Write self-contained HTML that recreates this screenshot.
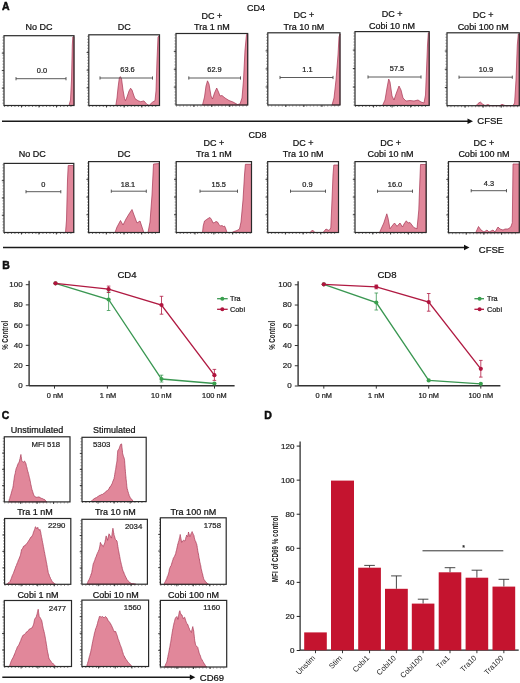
<!DOCTYPE html>
<html><head><meta charset="utf-8"><style>
html,body{margin:0;padding:0;background:#fff;width:520px;height:683px;overflow:hidden}
svg{display:block;font-family:"Liberation Sans", sans-serif;will-change:transform;filter:blur(0.3px)}
</style></head><body>
<svg width="520" height="683" viewBox="0 0 520 683">
<rect width="520" height="683" fill="#fff"/>
<text x="2" y="9.6" font-size="10.5" text-anchor="start" font-weight="bold" fill="#111" stroke="#000" stroke-width="0.45">A</text>
<text x="256" y="11" font-size="9" text-anchor="middle" font-weight="normal" fill="#111" stroke="#111" stroke-width="0.22">CD4</text>
<text x="257.5" y="138" font-size="9" text-anchor="middle" font-weight="normal" fill="#111" stroke="#111" stroke-width="0.22">CD8</text>
<text x="39" y="29.8" font-size="9" text-anchor="middle" font-weight="normal" fill="#111" stroke="#111" stroke-width="0.22">No DC</text>
<polygon points="69,105.5 70.5,100 71.5,80 72.3,45 72.8,37 74,36.5 74,105.5" fill="#e1879a" stroke="#a53352" stroke-width="0.7" stroke-linejoin="round"/>
<rect x="4" y="35.7" width="70" height="69.8" fill="none" stroke="#2a2a2a" stroke-width="1.2"/>
<line x1="3" y1="36.7" x2="3" y2="105.5" stroke="#2a2a2a" stroke-width="0.8" stroke-dasharray="0.9 2.1" opacity="0.8"/>
<line x1="4" y1="106.5" x2="73" y2="106.5" stroke="#2a2a2a" stroke-width="0.8" stroke-dasharray="0.9 2.6" opacity="0.8"/>
<line x1="1.8" y1="88.05" x2="4" y2="88.05" stroke="#2a2a2a" stroke-width="0.9" />
<line x1="1.8" y1="70.6" x2="4" y2="70.6" stroke="#2a2a2a" stroke-width="0.9" />
<line x1="1.8" y1="53.15" x2="4" y2="53.15" stroke="#2a2a2a" stroke-width="0.9" />
<line x1="21.5" y1="105.5" x2="21.5" y2="107.5" stroke="#2a2a2a" stroke-width="0.9" />
<line x1="39" y1="105.5" x2="39" y2="107.5" stroke="#2a2a2a" stroke-width="0.9" />
<line x1="56.5" y1="105.5" x2="56.5" y2="107.5" stroke="#2a2a2a" stroke-width="0.9" />
<line x1="16" y1="78.7" x2="66" y2="78.7" stroke="#484848" stroke-width="0.9" />
<line x1="16" y1="77.1" x2="16" y2="80.3" stroke="#484848" stroke-width="0.9" />
<line x1="66" y1="77.1" x2="66" y2="80.3" stroke="#484848" stroke-width="0.9" />
<text x="42" y="72.6" font-size="7.4" text-anchor="middle" font-weight="normal" fill="#222" stroke="#222" stroke-width="0.22">0.0</text>
<text x="124.15" y="29.8" font-size="9" text-anchor="middle" font-weight="normal" fill="#111" stroke="#111" stroke-width="0.22">DC</text>
<polygon points="115.8,105.5 117,98 118,88 119.3,78 120.3,76.6 121.5,78.5 123,90 124.5,98.5 125.5,100.7 127,97 129,91 130.6,88.2 132,90 134,96 135,98.6 138,100.7 140.7,101.7 143.9,100.9 147,104.4 149.2,105.3 152.3,102.3 155,100.7 156,91 157,60 158,37 159.3,35.5 159.5,105.5" fill="#e1879a" stroke="#a53352" stroke-width="0.7" stroke-linejoin="round"/>
<rect x="88.8" y="34.8" width="70.7" height="70.7" fill="none" stroke="#2a2a2a" stroke-width="1.2"/>
<line x1="87.8" y1="35.8" x2="87.8" y2="105.5" stroke="#2a2a2a" stroke-width="0.8" stroke-dasharray="0.9 2.1" opacity="0.8"/>
<line x1="88.8" y1="106.5" x2="158.5" y2="106.5" stroke="#2a2a2a" stroke-width="0.8" stroke-dasharray="0.9 2.6" opacity="0.8"/>
<line x1="86.6" y1="87.83" x2="88.8" y2="87.83" stroke="#2a2a2a" stroke-width="0.9" />
<line x1="86.6" y1="70.15" x2="88.8" y2="70.15" stroke="#2a2a2a" stroke-width="0.9" />
<line x1="86.6" y1="52.47" x2="88.8" y2="52.47" stroke="#2a2a2a" stroke-width="0.9" />
<line x1="106.47" y1="105.5" x2="106.47" y2="107.5" stroke="#2a2a2a" stroke-width="0.9" />
<line x1="124.15" y1="105.5" x2="124.15" y2="107.5" stroke="#2a2a2a" stroke-width="0.9" />
<line x1="141.82" y1="105.5" x2="141.82" y2="107.5" stroke="#2a2a2a" stroke-width="0.9" />
<line x1="100" y1="78" x2="152.5" y2="78" stroke="#484848" stroke-width="0.9" />
<line x1="100" y1="76.4" x2="100" y2="79.6" stroke="#484848" stroke-width="0.9" />
<line x1="152.5" y1="76.4" x2="152.5" y2="79.6" stroke="#484848" stroke-width="0.9" />
<text x="127.5" y="72.1" font-size="7.4" text-anchor="middle" font-weight="normal" fill="#222" stroke="#222" stroke-width="0.22">63.6</text>
<text x="211.85" y="18.5" font-size="9" text-anchor="middle" font-weight="normal" fill="#111" stroke="#111" stroke-width="0.22">DC +</text>
<text x="211.85" y="29.8" font-size="9" text-anchor="middle" font-weight="normal" fill="#111" stroke="#111" stroke-width="0.22">Tra 1 nM</text>
<polygon points="202.5,105 204.5,97 206,86 207.5,80.8 209,84 211,96 212.5,99 214.5,93 216.7,88 218.5,92 220,96 222,95.5 225,98 229,100.5 233,102 237.5,104.5 240,104 242,98 243.5,80 245,50 246.5,34.5 247.7,34 247.7,105" fill="#e1879a" stroke="#a53352" stroke-width="0.7" stroke-linejoin="round"/>
<rect x="176" y="33.5" width="71.7" height="71.5" fill="none" stroke="#2a2a2a" stroke-width="1.2"/>
<line x1="175" y1="34.5" x2="175" y2="105" stroke="#2a2a2a" stroke-width="0.8" stroke-dasharray="0.9 2.1" opacity="0.8"/>
<line x1="176" y1="106" x2="246.7" y2="106" stroke="#2a2a2a" stroke-width="0.8" stroke-dasharray="0.9 2.6" opacity="0.8"/>
<line x1="173.8" y1="87.12" x2="176" y2="87.12" stroke="#2a2a2a" stroke-width="0.9" />
<line x1="173.8" y1="69.25" x2="176" y2="69.25" stroke="#2a2a2a" stroke-width="0.9" />
<line x1="173.8" y1="51.38" x2="176" y2="51.38" stroke="#2a2a2a" stroke-width="0.9" />
<line x1="193.93" y1="105" x2="193.93" y2="107" stroke="#2a2a2a" stroke-width="0.9" />
<line x1="211.85" y1="105" x2="211.85" y2="107" stroke="#2a2a2a" stroke-width="0.9" />
<line x1="229.77" y1="105" x2="229.77" y2="107" stroke="#2a2a2a" stroke-width="0.9" />
<line x1="188.8" y1="78" x2="240.5" y2="78" stroke="#484848" stroke-width="0.9" />
<line x1="188.8" y1="76.4" x2="188.8" y2="79.6" stroke="#484848" stroke-width="0.9" />
<line x1="240.5" y1="76.4" x2="240.5" y2="79.6" stroke="#484848" stroke-width="0.9" />
<text x="214.5" y="72.1" font-size="7.4" text-anchor="middle" font-weight="normal" fill="#222" stroke="#222" stroke-width="0.22">62.9</text>
<text x="303.9" y="18.2" font-size="9" text-anchor="middle" font-weight="normal" fill="#111" stroke="#111" stroke-width="0.22">DC +</text>
<text x="303.9" y="29.6" font-size="9" text-anchor="middle" font-weight="normal" fill="#111" stroke="#111" stroke-width="0.22">Tra 10 nM</text>
<polygon points="332,105 334,98 336,80 338,55 339,37 340,34 340,105" fill="#e1879a" stroke="#a53352" stroke-width="0.7" stroke-linejoin="round"/>
<rect x="267.8" y="32.8" width="72.2" height="72.2" fill="none" stroke="#2a2a2a" stroke-width="1.2"/>
<line x1="266.8" y1="33.8" x2="266.8" y2="105" stroke="#2a2a2a" stroke-width="0.8" stroke-dasharray="0.9 2.1" opacity="0.8"/>
<line x1="267.8" y1="106" x2="339" y2="106" stroke="#2a2a2a" stroke-width="0.8" stroke-dasharray="0.9 2.6" opacity="0.8"/>
<line x1="265.6" y1="86.95" x2="267.8" y2="86.95" stroke="#2a2a2a" stroke-width="0.9" />
<line x1="265.6" y1="68.9" x2="267.8" y2="68.9" stroke="#2a2a2a" stroke-width="0.9" />
<line x1="265.6" y1="50.85" x2="267.8" y2="50.85" stroke="#2a2a2a" stroke-width="0.9" />
<line x1="285.85" y1="105" x2="285.85" y2="107" stroke="#2a2a2a" stroke-width="0.9" />
<line x1="303.9" y1="105" x2="303.9" y2="107" stroke="#2a2a2a" stroke-width="0.9" />
<line x1="321.95" y1="105" x2="321.95" y2="107" stroke="#2a2a2a" stroke-width="0.9" />
<line x1="280" y1="77.5" x2="333" y2="77.5" stroke="#484848" stroke-width="0.9" />
<line x1="280" y1="75.9" x2="280" y2="79.1" stroke="#484848" stroke-width="0.9" />
<line x1="333" y1="75.9" x2="333" y2="79.1" stroke="#484848" stroke-width="0.9" />
<text x="307.5" y="71.6" font-size="7.4" text-anchor="middle" font-weight="normal" fill="#222" stroke="#222" stroke-width="0.22">1.1</text>
<text x="392.1" y="17.4" font-size="9" text-anchor="middle" font-weight="normal" fill="#111" stroke="#111" stroke-width="0.22">DC +</text>
<text x="392.1" y="28.6" font-size="9" text-anchor="middle" font-weight="normal" fill="#111" stroke="#111" stroke-width="0.22">Cobi 10 nM</text>
<polygon points="382.5,105.5 385,100 387,88 388.7,79 390,82 392,96 394,100 396,94 399,86 401,90 403,98 406,101 410,100.5 414,101 418,100 421,102 424,103 425.5,95 426.5,70 427.5,45 428.3,33 429.2,32.5 429.2,105.5" fill="#e1879a" stroke="#a53352" stroke-width="0.7" stroke-linejoin="round"/>
<rect x="355" y="31.6" width="74.2" height="73.9" fill="none" stroke="#2a2a2a" stroke-width="1.2"/>
<line x1="354" y1="32.6" x2="354" y2="105.5" stroke="#2a2a2a" stroke-width="0.8" stroke-dasharray="0.9 2.1" opacity="0.8"/>
<line x1="355" y1="106.5" x2="428.2" y2="106.5" stroke="#2a2a2a" stroke-width="0.8" stroke-dasharray="0.9 2.6" opacity="0.8"/>
<line x1="352.8" y1="87.03" x2="355" y2="87.03" stroke="#2a2a2a" stroke-width="0.9" />
<line x1="352.8" y1="68.55" x2="355" y2="68.55" stroke="#2a2a2a" stroke-width="0.9" />
<line x1="352.8" y1="50.07" x2="355" y2="50.07" stroke="#2a2a2a" stroke-width="0.9" />
<line x1="373.55" y1="105.5" x2="373.55" y2="107.5" stroke="#2a2a2a" stroke-width="0.9" />
<line x1="392.1" y1="105.5" x2="392.1" y2="107.5" stroke="#2a2a2a" stroke-width="0.9" />
<line x1="410.65" y1="105.5" x2="410.65" y2="107.5" stroke="#2a2a2a" stroke-width="0.9" />
<line x1="368" y1="77" x2="421" y2="77" stroke="#484848" stroke-width="0.9" />
<line x1="368" y1="75.4" x2="368" y2="78.6" stroke="#484848" stroke-width="0.9" />
<line x1="421" y1="75.4" x2="421" y2="78.6" stroke="#484848" stroke-width="0.9" />
<text x="397" y="71.3" font-size="7.4" text-anchor="middle" font-weight="normal" fill="#222" stroke="#222" stroke-width="0.22">57.5</text>
<text x="483.15" y="18.2" font-size="9" text-anchor="middle" font-weight="normal" fill="#111" stroke="#111" stroke-width="0.22">DC +</text>
<text x="483.15" y="29.9" font-size="9" text-anchor="middle" font-weight="normal" fill="#111" stroke="#111" stroke-width="0.22">Cobi 100 nM</text>
<polygon points="476,105.7 478,103.5 480.3,102 482.5,104 485,105.5 488,104.5 490,105.5 500,105.5 502,104.3 505,105.5 513,105.5 514.6,103 516,80 517.3,45 518.3,34 519.3,34 519.3,105.7" fill="#e1879a" stroke="#a53352" stroke-width="0.7" stroke-linejoin="round"/>
<rect x="447" y="32.8" width="72.3" height="72.9" fill="none" stroke="#2a2a2a" stroke-width="1.2"/>
<line x1="446" y1="33.8" x2="446" y2="105.7" stroke="#2a2a2a" stroke-width="0.8" stroke-dasharray="0.9 2.1" opacity="0.8"/>
<line x1="447" y1="106.7" x2="518.3" y2="106.7" stroke="#2a2a2a" stroke-width="0.8" stroke-dasharray="0.9 2.6" opacity="0.8"/>
<line x1="444.8" y1="87.47" x2="447" y2="87.47" stroke="#2a2a2a" stroke-width="0.9" />
<line x1="444.8" y1="69.25" x2="447" y2="69.25" stroke="#2a2a2a" stroke-width="0.9" />
<line x1="444.8" y1="51.02" x2="447" y2="51.02" stroke="#2a2a2a" stroke-width="0.9" />
<line x1="465.07" y1="105.7" x2="465.07" y2="107.7" stroke="#2a2a2a" stroke-width="0.9" />
<line x1="483.15" y1="105.7" x2="483.15" y2="107.7" stroke="#2a2a2a" stroke-width="0.9" />
<line x1="501.22" y1="105.7" x2="501.22" y2="107.7" stroke="#2a2a2a" stroke-width="0.9" />
<line x1="459" y1="77.2" x2="512.3" y2="77.2" stroke="#484848" stroke-width="0.9" />
<line x1="459" y1="75.6" x2="459" y2="78.8" stroke="#484848" stroke-width="0.9" />
<line x1="512.3" y1="75.6" x2="512.3" y2="78.8" stroke="#484848" stroke-width="0.9" />
<text x="486" y="71.5" font-size="7.4" text-anchor="middle" font-weight="normal" fill="#222" stroke="#222" stroke-width="0.22">10.9</text>
<text x="32.2" y="156.9" font-size="9" text-anchor="middle" font-weight="normal" fill="#111" stroke="#111" stroke-width="0.22">No DC</text>
<polygon points="65.5,232.5 66.5,220 67.5,180 68.2,165.5 73.5,165.5 73.5,232.5" fill="#e1879a" stroke="#a53352" stroke-width="0.7" stroke-linejoin="round"/>
<rect x="4" y="163.4" width="69.8" height="69.1" fill="none" stroke="#2a2a2a" stroke-width="1.2"/>
<line x1="3" y1="164.4" x2="3" y2="232.5" stroke="#2a2a2a" stroke-width="0.8" stroke-dasharray="0.9 2.1" opacity="0.8"/>
<line x1="4" y1="233.5" x2="72.8" y2="233.5" stroke="#2a2a2a" stroke-width="0.8" stroke-dasharray="0.9 2.6" opacity="0.8"/>
<line x1="1.8" y1="215.22" x2="4" y2="215.22" stroke="#2a2a2a" stroke-width="0.9" />
<line x1="1.8" y1="197.95" x2="4" y2="197.95" stroke="#2a2a2a" stroke-width="0.9" />
<line x1="1.8" y1="180.68" x2="4" y2="180.68" stroke="#2a2a2a" stroke-width="0.9" />
<line x1="21.45" y1="232.5" x2="21.45" y2="234.5" stroke="#2a2a2a" stroke-width="0.9" />
<line x1="38.9" y1="232.5" x2="38.9" y2="234.5" stroke="#2a2a2a" stroke-width="0.9" />
<line x1="56.35" y1="232.5" x2="56.35" y2="234.5" stroke="#2a2a2a" stroke-width="0.9" />
<line x1="26" y1="191.7" x2="60.8" y2="191.7" stroke="#484848" stroke-width="0.9" />
<line x1="26" y1="190.1" x2="26" y2="193.3" stroke="#484848" stroke-width="0.9" />
<line x1="60.8" y1="190.1" x2="60.8" y2="193.3" stroke="#484848" stroke-width="0.9" />
<text x="43.3" y="187" font-size="7.4" text-anchor="middle" font-weight="normal" fill="#222" stroke="#222" stroke-width="0.22">0</text>
<text x="124" y="156.8" font-size="9" text-anchor="middle" font-weight="normal" fill="#111" stroke="#111" stroke-width="0.22">DC</text>
<polygon points="115,232.5 117,227 120.5,220.5 123,225 126,219 129,214 132,209.5 134,215 137,223 140,221 142,227 143.8,232.5 148,232.5 150,222 152,195 153.5,164 159.4,163.5 159.4,232.5" fill="#e1879a" stroke="#a53352" stroke-width="0.7" stroke-linejoin="round"/>
<rect x="88.6" y="161.6" width="70.8" height="70.9" fill="none" stroke="#2a2a2a" stroke-width="1.2"/>
<line x1="87.6" y1="162.6" x2="87.6" y2="232.5" stroke="#2a2a2a" stroke-width="0.8" stroke-dasharray="0.9 2.1" opacity="0.8"/>
<line x1="88.6" y1="233.5" x2="158.4" y2="233.5" stroke="#2a2a2a" stroke-width="0.8" stroke-dasharray="0.9 2.6" opacity="0.8"/>
<line x1="86.4" y1="214.78" x2="88.6" y2="214.78" stroke="#2a2a2a" stroke-width="0.9" />
<line x1="86.4" y1="197.05" x2="88.6" y2="197.05" stroke="#2a2a2a" stroke-width="0.9" />
<line x1="86.4" y1="179.32" x2="88.6" y2="179.32" stroke="#2a2a2a" stroke-width="0.9" />
<line x1="106.3" y1="232.5" x2="106.3" y2="234.5" stroke="#2a2a2a" stroke-width="0.9" />
<line x1="124" y1="232.5" x2="124" y2="234.5" stroke="#2a2a2a" stroke-width="0.9" />
<line x1="141.7" y1="232.5" x2="141.7" y2="234.5" stroke="#2a2a2a" stroke-width="0.9" />
<line x1="111.3" y1="191.2" x2="146.3" y2="191.2" stroke="#484848" stroke-width="0.9" />
<line x1="111.3" y1="189.6" x2="111.3" y2="192.8" stroke="#484848" stroke-width="0.9" />
<line x1="146.3" y1="189.6" x2="146.3" y2="192.8" stroke="#484848" stroke-width="0.9" />
<text x="128" y="186.5" font-size="7.4" text-anchor="middle" font-weight="normal" fill="#222" stroke="#222" stroke-width="0.22">18.1</text>
<text x="213.85" y="145.8" font-size="9" text-anchor="middle" font-weight="normal" fill="#111" stroke="#111" stroke-width="0.22">DC +</text>
<text x="213.85" y="156.8" font-size="9" text-anchor="middle" font-weight="normal" fill="#111" stroke="#111" stroke-width="0.22">Tra 1 nM</text>
<polygon points="202.5,232.5 203.2,226 204.5,221 206,220 208,218.5 210,217.5 211.5,219.5 213,223 214.5,222.5 216,221.5 217.5,222 219,224.5 220.5,226 222,225.5 223.5,226.5 224.5,226 225.5,228 227,232.5 232,232.5 234,231.5 237,230.5 239.5,229 241,222 243,200 244.5,175 245.4,164.3 251.5,164.3 251.5,232.5" fill="#e1879a" stroke="#a53352" stroke-width="0.7" stroke-linejoin="round"/>
<rect x="176.2" y="161.6" width="75.3" height="70.9" fill="none" stroke="#2a2a2a" stroke-width="1.2"/>
<line x1="175.2" y1="162.6" x2="175.2" y2="232.5" stroke="#2a2a2a" stroke-width="0.8" stroke-dasharray="0.9 2.1" opacity="0.8"/>
<line x1="176.2" y1="233.5" x2="250.5" y2="233.5" stroke="#2a2a2a" stroke-width="0.8" stroke-dasharray="0.9 2.6" opacity="0.8"/>
<line x1="174" y1="214.78" x2="176.2" y2="214.78" stroke="#2a2a2a" stroke-width="0.9" />
<line x1="174" y1="197.05" x2="176.2" y2="197.05" stroke="#2a2a2a" stroke-width="0.9" />
<line x1="174" y1="179.32" x2="176.2" y2="179.32" stroke="#2a2a2a" stroke-width="0.9" />
<line x1="195.02" y1="232.5" x2="195.02" y2="234.5" stroke="#2a2a2a" stroke-width="0.9" />
<line x1="213.85" y1="232.5" x2="213.85" y2="234.5" stroke="#2a2a2a" stroke-width="0.9" />
<line x1="232.68" y1="232.5" x2="232.68" y2="234.5" stroke="#2a2a2a" stroke-width="0.9" />
<line x1="200" y1="191.2" x2="237.5" y2="191.2" stroke="#484848" stroke-width="0.9" />
<line x1="200" y1="189.6" x2="200" y2="192.8" stroke="#484848" stroke-width="0.9" />
<line x1="237.5" y1="189.6" x2="237.5" y2="192.8" stroke="#484848" stroke-width="0.9" />
<text x="218.8" y="186.5" font-size="7.4" text-anchor="middle" font-weight="normal" fill="#222" stroke="#222" stroke-width="0.22">15.5</text>
<text x="303.1" y="145.8" font-size="9" text-anchor="middle" font-weight="normal" fill="#111" stroke="#111" stroke-width="0.22">DC +</text>
<text x="303.1" y="156.8" font-size="9" text-anchor="middle" font-weight="normal" fill="#111" stroke="#111" stroke-width="0.22">Tra 10 nM</text>
<polygon points="310,232.5 312.5,230 315,232.5 323,232.5 326,229 329,230.5 330.8,228 332,200 333,175 333.8,165 338.5,165 338.5,232.5" fill="#e1879a" stroke="#a53352" stroke-width="0.7" stroke-linejoin="round"/>
<rect x="267.7" y="161.6" width="70.8" height="70.9" fill="none" stroke="#2a2a2a" stroke-width="1.2"/>
<line x1="266.7" y1="162.6" x2="266.7" y2="232.5" stroke="#2a2a2a" stroke-width="0.8" stroke-dasharray="0.9 2.1" opacity="0.8"/>
<line x1="267.7" y1="233.5" x2="337.5" y2="233.5" stroke="#2a2a2a" stroke-width="0.8" stroke-dasharray="0.9 2.6" opacity="0.8"/>
<line x1="265.5" y1="214.78" x2="267.7" y2="214.78" stroke="#2a2a2a" stroke-width="0.9" />
<line x1="265.5" y1="197.05" x2="267.7" y2="197.05" stroke="#2a2a2a" stroke-width="0.9" />
<line x1="265.5" y1="179.32" x2="267.7" y2="179.32" stroke="#2a2a2a" stroke-width="0.9" />
<line x1="285.4" y1="232.5" x2="285.4" y2="234.5" stroke="#2a2a2a" stroke-width="0.9" />
<line x1="303.1" y1="232.5" x2="303.1" y2="234.5" stroke="#2a2a2a" stroke-width="0.9" />
<line x1="320.8" y1="232.5" x2="320.8" y2="234.5" stroke="#2a2a2a" stroke-width="0.9" />
<line x1="290.5" y1="191.2" x2="325.5" y2="191.2" stroke="#484848" stroke-width="0.9" />
<line x1="290.5" y1="189.6" x2="290.5" y2="192.8" stroke="#484848" stroke-width="0.9" />
<line x1="325.5" y1="189.6" x2="325.5" y2="192.8" stroke="#484848" stroke-width="0.9" />
<text x="307.5" y="186.5" font-size="7.4" text-anchor="middle" font-weight="normal" fill="#222" stroke="#222" stroke-width="0.22">0.9</text>
<text x="390.6" y="145.8" font-size="9" text-anchor="middle" font-weight="normal" fill="#111" stroke="#111" stroke-width="0.22">DC +</text>
<text x="390.6" y="156.8" font-size="9" text-anchor="middle" font-weight="normal" fill="#111" stroke="#111" stroke-width="0.22">Cobi 10 nM</text>
<polygon points="379.5,232.5 383.8,223 386.8,213.8 388,218 390,228.8 392,226 394.5,223 397,226.3 400,223 402.5,227 404,224 406.3,220.8 408,223 410,222.5 413.8,227.5 417,228.8 418.8,210 419.5,190 420.5,164.5 426,164.5 426,232.5" fill="#e1879a" stroke="#a53352" stroke-width="0.7" stroke-linejoin="round"/>
<rect x="355" y="161.6" width="71.2" height="70.9" fill="none" stroke="#2a2a2a" stroke-width="1.2"/>
<line x1="354" y1="162.6" x2="354" y2="232.5" stroke="#2a2a2a" stroke-width="0.8" stroke-dasharray="0.9 2.1" opacity="0.8"/>
<line x1="355" y1="233.5" x2="425.2" y2="233.5" stroke="#2a2a2a" stroke-width="0.8" stroke-dasharray="0.9 2.6" opacity="0.8"/>
<line x1="352.8" y1="214.78" x2="355" y2="214.78" stroke="#2a2a2a" stroke-width="0.9" />
<line x1="352.8" y1="197.05" x2="355" y2="197.05" stroke="#2a2a2a" stroke-width="0.9" />
<line x1="352.8" y1="179.32" x2="355" y2="179.32" stroke="#2a2a2a" stroke-width="0.9" />
<line x1="372.8" y1="232.5" x2="372.8" y2="234.5" stroke="#2a2a2a" stroke-width="0.9" />
<line x1="390.6" y1="232.5" x2="390.6" y2="234.5" stroke="#2a2a2a" stroke-width="0.9" />
<line x1="408.4" y1="232.5" x2="408.4" y2="234.5" stroke="#2a2a2a" stroke-width="0.9" />
<line x1="377.5" y1="191.2" x2="412.5" y2="191.2" stroke="#484848" stroke-width="0.9" />
<line x1="377.5" y1="189.6" x2="377.5" y2="192.8" stroke="#484848" stroke-width="0.9" />
<line x1="412.5" y1="189.6" x2="412.5" y2="192.8" stroke="#484848" stroke-width="0.9" />
<text x="395" y="186.5" font-size="7.4" text-anchor="middle" font-weight="normal" fill="#222" stroke="#222" stroke-width="0.22">16.0</text>
<text x="483.9" y="145.8" font-size="9" text-anchor="middle" font-weight="normal" fill="#111" stroke="#111" stroke-width="0.22">DC +</text>
<text x="483.9" y="156.8" font-size="9" text-anchor="middle" font-weight="normal" fill="#111" stroke="#111" stroke-width="0.22">Cobi 100 nM</text>
<polygon points="475.7,232.7 478.5,226.5 481,230 484,232 487,230 489,232 493,230 495,232 498,227 500,229 503,230 505,229 508,229 510.8,227 512.3,222.7 513,164 519.3,164 519.3,232.7" fill="#e1879a" stroke="#a53352" stroke-width="0.7" stroke-linejoin="round"/>
<rect x="448.5" y="161.6" width="70.8" height="71.1" fill="none" stroke="#2a2a2a" stroke-width="1.2"/>
<line x1="447.5" y1="162.6" x2="447.5" y2="232.7" stroke="#2a2a2a" stroke-width="0.8" stroke-dasharray="0.9 2.1" opacity="0.8"/>
<line x1="448.5" y1="233.7" x2="518.3" y2="233.7" stroke="#2a2a2a" stroke-width="0.8" stroke-dasharray="0.9 2.6" opacity="0.8"/>
<line x1="446.3" y1="214.92" x2="448.5" y2="214.92" stroke="#2a2a2a" stroke-width="0.9" />
<line x1="446.3" y1="197.15" x2="448.5" y2="197.15" stroke="#2a2a2a" stroke-width="0.9" />
<line x1="446.3" y1="179.38" x2="448.5" y2="179.38" stroke="#2a2a2a" stroke-width="0.9" />
<line x1="466.2" y1="232.7" x2="466.2" y2="234.7" stroke="#2a2a2a" stroke-width="0.9" />
<line x1="483.9" y1="232.7" x2="483.9" y2="234.7" stroke="#2a2a2a" stroke-width="0.9" />
<line x1="501.6" y1="232.7" x2="501.6" y2="234.7" stroke="#2a2a2a" stroke-width="0.9" />
<line x1="471.2" y1="190.7" x2="506.5" y2="190.7" stroke="#484848" stroke-width="0.9" />
<line x1="471.2" y1="189.1" x2="471.2" y2="192.3" stroke="#484848" stroke-width="0.9" />
<line x1="506.5" y1="189.1" x2="506.5" y2="192.3" stroke="#484848" stroke-width="0.9" />
<text x="489" y="185.6" font-size="7.4" text-anchor="middle" font-weight="normal" fill="#222" stroke="#222" stroke-width="0.22">4.3</text>
<line x1="2" y1="121.3" x2="469" y2="121.3" stroke="#1a1a1a" stroke-width="1.5" />
<polygon points="467.5,118.5 473,121.3 467.5,124.1" fill="#111"/>
<text x="477.3" y="124.3" font-size="9.5" text-anchor="start" font-weight="normal" fill="#111" stroke="#111" stroke-width="0.22">CFSE</text>
<line x1="3" y1="247.5" x2="465.5" y2="247.5" stroke="#1a1a1a" stroke-width="1.5" />
<polygon points="464,244.7 469.5,247.5 464,250.3" fill="#111"/>
<text x="478.8" y="253" font-size="9.5" text-anchor="start" font-weight="normal" fill="#111" stroke="#111" stroke-width="0.22">CFSE</text>
<text x="2.3" y="269.3" font-size="10.5" text-anchor="start" font-weight="bold" fill="#111" stroke="#000" stroke-width="0.45">B</text>
<line x1="29.1" y1="280.7" x2="29.1" y2="385.8" stroke="#333" stroke-width="1.4" />
<line x1="29.1" y1="385.8" x2="234.6" y2="385.8" stroke="#333" stroke-width="1.4" />
<line x1="25.8" y1="385.7" x2="29.1" y2="385.7" stroke="#333" stroke-width="1" />
<text x="22.6" y="388.1" font-size="8" text-anchor="end" font-weight="normal" fill="#222" stroke="#222" stroke-width="0.22">0</text>
<line x1="25.8" y1="365.5" x2="29.1" y2="365.5" stroke="#333" stroke-width="1" />
<text x="22.6" y="367.9" font-size="8" text-anchor="end" font-weight="normal" fill="#222" stroke="#222" stroke-width="0.22">20</text>
<line x1="25.8" y1="345.3" x2="29.1" y2="345.3" stroke="#333" stroke-width="1" />
<text x="22.6" y="347.7" font-size="8" text-anchor="end" font-weight="normal" fill="#222" stroke="#222" stroke-width="0.22">40</text>
<line x1="25.8" y1="325.1" x2="29.1" y2="325.1" stroke="#333" stroke-width="1" />
<text x="22.6" y="327.5" font-size="8" text-anchor="end" font-weight="normal" fill="#222" stroke="#222" stroke-width="0.22">60</text>
<line x1="25.8" y1="304.9" x2="29.1" y2="304.9" stroke="#333" stroke-width="1" />
<text x="22.6" y="307.3" font-size="8" text-anchor="end" font-weight="normal" fill="#222" stroke="#222" stroke-width="0.22">80</text>
<line x1="25.8" y1="284.7" x2="29.1" y2="284.7" stroke="#333" stroke-width="1" />
<text x="22.6" y="287.1" font-size="8" text-anchor="end" font-weight="normal" fill="#222" stroke="#222" stroke-width="0.22">100</text>
<line x1="54.5" y1="385.8" x2="54.5" y2="388.6" stroke="#333" stroke-width="1" />
<text x="55" y="397.6" font-size="7.4" text-anchor="middle" font-weight="normal" fill="#222" stroke="#222" stroke-width="0.22">0 nM</text>
<line x1="107.4" y1="385.8" x2="107.4" y2="388.6" stroke="#333" stroke-width="1" />
<text x="108" y="397.6" font-size="7.4" text-anchor="middle" font-weight="normal" fill="#222" stroke="#222" stroke-width="0.22">1 nM</text>
<line x1="161.2" y1="385.8" x2="161.2" y2="388.6" stroke="#333" stroke-width="1" />
<text x="161.35" y="397.6" font-size="7.4" text-anchor="middle" font-weight="normal" fill="#222" stroke="#222" stroke-width="0.22">10 nM</text>
<line x1="214.5" y1="385.8" x2="214.5" y2="388.6" stroke="#333" stroke-width="1" />
<text x="214.45" y="397.6" font-size="7.4" text-anchor="middle" font-weight="normal" fill="#222" stroke="#222" stroke-width="0.22">100 nM</text>
<polyline points="55.5,283.3 108.6,299.5 161.5,379 214.4,383.5" fill="none" stroke="#3a9752" stroke-width="1.35"/>
<circle cx="55.5" cy="283.3" r="2.1" fill="#3aa04e"/>
<line x1="108.6" y1="292" x2="108.6" y2="310.5" stroke="#3a9752" stroke-width="0.8" />
<line x1="106.8" y1="292" x2="110.4" y2="292" stroke="#3a9752" stroke-width="0.8" />
<line x1="106.8" y1="310.5" x2="110.4" y2="310.5" stroke="#3a9752" stroke-width="0.8" />
<circle cx="108.6" cy="299.5" r="2.1" fill="#3aa04e"/>
<line x1="161.5" y1="375.2" x2="161.5" y2="382" stroke="#3a9752" stroke-width="0.8" />
<line x1="159.7" y1="375.2" x2="163.3" y2="375.2" stroke="#3a9752" stroke-width="0.8" />
<line x1="159.7" y1="382" x2="163.3" y2="382" stroke="#3a9752" stroke-width="0.8" />
<circle cx="161.5" cy="379" r="2.1" fill="#3aa04e"/>
<circle cx="214.4" cy="383.5" r="2.1" fill="#3aa04e"/>
<polyline points="55.5,283.3 108.6,289.2 161.5,305 214.4,375.2" fill="none" stroke="#b01a42" stroke-width="1.35"/>
<circle cx="55.5" cy="283.3" r="2.1" fill="#b0143e"/>
<line x1="108.6" y1="286.1" x2="108.6" y2="292.5" stroke="#b01a42" stroke-width="0.8" />
<line x1="106.8" y1="286.1" x2="110.4" y2="286.1" stroke="#b01a42" stroke-width="0.8" />
<line x1="106.8" y1="292.5" x2="110.4" y2="292.5" stroke="#b01a42" stroke-width="0.8" />
<circle cx="108.6" cy="289.2" r="2.1" fill="#b0143e"/>
<line x1="161.5" y1="296.3" x2="161.5" y2="314.2" stroke="#b01a42" stroke-width="0.8" />
<line x1="159.7" y1="296.3" x2="163.3" y2="296.3" stroke="#b01a42" stroke-width="0.8" />
<line x1="159.7" y1="314.2" x2="163.3" y2="314.2" stroke="#b01a42" stroke-width="0.8" />
<circle cx="161.5" cy="305" r="2.1" fill="#b0143e"/>
<line x1="214.4" y1="369.4" x2="214.4" y2="380.4" stroke="#b01a42" stroke-width="0.8" />
<line x1="212.6" y1="369.4" x2="216.2" y2="369.4" stroke="#b01a42" stroke-width="0.8" />
<line x1="212.6" y1="380.4" x2="216.2" y2="380.4" stroke="#b01a42" stroke-width="0.8" />
<circle cx="214.4" cy="375.2" r="2.1" fill="#b0143e"/>
<text x="127" y="278.3" font-size="9.6" text-anchor="middle" font-weight="normal" fill="#111" stroke="#111" stroke-width="0.22">CD4</text>
<line x1="217.1" y1="298.7" x2="227.7" y2="298.7" stroke="#3a9752" stroke-width="1.3" />
<circle cx="222.3" cy="298.7" r="2" fill="#3aa04e"/>
<text x="230" y="301.2" font-size="7.3" text-anchor="start" font-weight="normal" fill="#222" stroke="#222" stroke-width="0.22">Tra</text>
<line x1="217.1" y1="309.3" x2="227.7" y2="309.3" stroke="#b01a42" stroke-width="1.3" />
<circle cx="222.3" cy="309.3" r="2" fill="#b0143e"/>
<text x="230" y="311.6" font-size="7.3" text-anchor="start" font-weight="normal" fill="#222" stroke="#222" stroke-width="0.22">Cobi</text>
<text transform="translate(7.9,335.3) rotate(-90)" font-size="8.6" text-anchor="middle" font-weight="bold" fill="#222" textLength="29" lengthAdjust="spacingAndGlyphs">% Control</text>
<line x1="298.1" y1="281.2" x2="298.1" y2="385.8" stroke="#333" stroke-width="1.4" />
<line x1="298.1" y1="385.8" x2="500.4" y2="385.8" stroke="#333" stroke-width="1.4" />
<line x1="294.8" y1="386" x2="298.1" y2="386" stroke="#333" stroke-width="1" />
<text x="291.7" y="388.4" font-size="8" text-anchor="end" font-weight="normal" fill="#222" stroke="#222" stroke-width="0.22">0</text>
<line x1="294.8" y1="365.76" x2="298.1" y2="365.76" stroke="#333" stroke-width="1" />
<text x="291.7" y="368.16" font-size="8" text-anchor="end" font-weight="normal" fill="#222" stroke="#222" stroke-width="0.22">20</text>
<line x1="294.8" y1="345.52" x2="298.1" y2="345.52" stroke="#333" stroke-width="1" />
<text x="291.7" y="347.92" font-size="8" text-anchor="end" font-weight="normal" fill="#222" stroke="#222" stroke-width="0.22">40</text>
<line x1="294.8" y1="325.28" x2="298.1" y2="325.28" stroke="#333" stroke-width="1" />
<text x="291.7" y="327.68" font-size="8" text-anchor="end" font-weight="normal" fill="#222" stroke="#222" stroke-width="0.22">60</text>
<line x1="294.8" y1="305.04" x2="298.1" y2="305.04" stroke="#333" stroke-width="1" />
<text x="291.7" y="307.44" font-size="8" text-anchor="end" font-weight="normal" fill="#222" stroke="#222" stroke-width="0.22">80</text>
<line x1="294.8" y1="284.8" x2="298.1" y2="284.8" stroke="#333" stroke-width="1" />
<text x="291.7" y="287.2" font-size="8" text-anchor="end" font-weight="normal" fill="#222" stroke="#222" stroke-width="0.22">100</text>
<line x1="323.8" y1="385.8" x2="323.8" y2="388.6" stroke="#333" stroke-width="1" />
<text x="323.8" y="397.6" font-size="7.4" text-anchor="middle" font-weight="normal" fill="#222" stroke="#222" stroke-width="0.22">0 nM</text>
<line x1="376.3" y1="385.8" x2="376.3" y2="388.6" stroke="#333" stroke-width="1" />
<text x="376.3" y="397.6" font-size="7.4" text-anchor="middle" font-weight="normal" fill="#222" stroke="#222" stroke-width="0.22">1 nM</text>
<line x1="428.7" y1="385.8" x2="428.7" y2="388.6" stroke="#333" stroke-width="1" />
<text x="428.7" y="397.6" font-size="7.4" text-anchor="middle" font-weight="normal" fill="#222" stroke="#222" stroke-width="0.22">10 nM</text>
<line x1="480.8" y1="385.8" x2="480.8" y2="388.6" stroke="#333" stroke-width="1" />
<text x="480.8" y="397.6" font-size="7.4" text-anchor="middle" font-weight="normal" fill="#222" stroke="#222" stroke-width="0.22">100 nM</text>
<polyline points="323.8,284.3 376.3,302.5 428.7,380.4 480.8,383.8" fill="none" stroke="#3a9752" stroke-width="1.35"/>
<circle cx="323.8" cy="284.3" r="2.1" fill="#3aa04e"/>
<line x1="376.3" y1="293" x2="376.3" y2="310" stroke="#3a9752" stroke-width="0.8" />
<line x1="374.5" y1="293" x2="378.1" y2="293" stroke="#3a9752" stroke-width="0.8" />
<line x1="374.5" y1="310" x2="378.1" y2="310" stroke="#3a9752" stroke-width="0.8" />
<circle cx="376.3" cy="302.5" r="2.1" fill="#3aa04e"/>
<circle cx="428.7" cy="380.4" r="2.1" fill="#3aa04e"/>
<circle cx="480.8" cy="383.8" r="2.1" fill="#3aa04e"/>
<polyline points="323.8,284.3 376.3,286.8 428.7,302.1 480.8,368.8" fill="none" stroke="#b01a42" stroke-width="1.35"/>
<circle cx="323.8" cy="284.3" r="2.1" fill="#b0143e"/>
<line x1="376.3" y1="285" x2="376.3" y2="288.8" stroke="#b01a42" stroke-width="0.8" />
<line x1="374.5" y1="285" x2="378.1" y2="285" stroke="#b01a42" stroke-width="0.8" />
<line x1="374.5" y1="288.8" x2="378.1" y2="288.8" stroke="#b01a42" stroke-width="0.8" />
<circle cx="376.3" cy="286.8" r="2.1" fill="#b0143e"/>
<line x1="428.7" y1="293.5" x2="428.7" y2="311.2" stroke="#b01a42" stroke-width="0.8" />
<line x1="426.9" y1="293.5" x2="430.5" y2="293.5" stroke="#b01a42" stroke-width="0.8" />
<line x1="426.9" y1="311.2" x2="430.5" y2="311.2" stroke="#b01a42" stroke-width="0.8" />
<circle cx="428.7" cy="302.1" r="2.1" fill="#b0143e"/>
<line x1="480.8" y1="360.4" x2="480.8" y2="377.1" stroke="#b01a42" stroke-width="0.8" />
<line x1="479" y1="360.4" x2="482.6" y2="360.4" stroke="#b01a42" stroke-width="0.8" />
<line x1="479" y1="377.1" x2="482.6" y2="377.1" stroke="#b01a42" stroke-width="0.8" />
<circle cx="480.8" cy="368.8" r="2.1" fill="#b0143e"/>
<text x="387" y="278.2" font-size="9.6" text-anchor="middle" font-weight="normal" fill="#111" stroke="#111" stroke-width="0.22">CD8</text>
<line x1="474.4" y1="298.7" x2="484" y2="298.7" stroke="#3a9752" stroke-width="1.3" />
<circle cx="479.6" cy="298.7" r="2" fill="#3aa04e"/>
<text x="487" y="301.2" font-size="7.3" text-anchor="start" font-weight="normal" fill="#222" stroke="#222" stroke-width="0.22">Tra</text>
<line x1="474.4" y1="309.3" x2="484" y2="309.3" stroke="#b01a42" stroke-width="1.3" />
<circle cx="479.6" cy="309.3" r="2" fill="#b0143e"/>
<text x="487" y="311.6" font-size="7.3" text-anchor="start" font-weight="normal" fill="#222" stroke="#222" stroke-width="0.22">Cobi</text>
<text transform="translate(275.3,335.3) rotate(-90)" font-size="8.6" text-anchor="middle" font-weight="bold" fill="#222" textLength="29" lengthAdjust="spacingAndGlyphs">% Control</text>
<text x="1.8" y="419.3" font-size="10.5" text-anchor="start" font-weight="bold" fill="#111" stroke="#000" stroke-width="0.45">C</text>
<text x="37" y="433.2" font-size="9" text-anchor="middle" font-weight="normal" fill="#111" stroke="#111" stroke-width="0.22">Unstimulated</text>
<polygon points="8.7,501.9 8.96,501.38 9.21,499.8 9.47,498.99 9.72,498.83 9.98,497.2 10.23,496.3 10.49,495.77 10.74,495.13 11,494 11.25,493.32 11.5,492.12 11.75,491.29 12,490.44 12.25,489.28 12.5,488.66 12.75,488.2 13,487 13.12,485.95 13.23,485.66 13.35,484.26 13.47,483.66 13.58,482.43 13.7,481.92 13.82,480.8 13.93,480.16 14.05,479.34 14.17,478.52 14.28,477.83 14.4,476.8 14.59,475.52 14.78,474.72 14.96,474.15 15.15,473.55 15.34,472.7 15.53,471.09 15.71,470.63 15.9,469.6 16.2,468.53 16.5,467.76 16.8,466.95 17.1,466.61 17.4,465.17 17.7,465.08 18,463.9 18.5,462.96 19,462.24 19.5,461 19.68,460 19.85,459.12 20.02,458.84 20.2,457.65 20.38,456.97 20.55,456.07 20.72,455.39 20.9,454.5 21.02,455.49 21.15,456.46 21.27,456.75 21.4,457.89 21.52,458.6 21.65,459.52 21.77,460.48 21.9,461 23.1,462.4 24.5,461 25,461.86 25.5,462.73 26,463.9 26.2,465.03 26.4,465.88 26.6,466.63 26.8,467.16 27,467.69 27.2,469.22 27.4,469.6 27.62,470.91 27.84,471.55 28.06,471.83 28.28,473.15 28.5,474.14 28.72,474.46 28.94,475.6 29.16,476.5 29.38,477.59 29.6,478.3 29.78,478.78 29.95,479.69 30.12,481.05 30.3,481.32 30.48,482.25 30.65,483.49 30.82,484.51 31,484.99 31.18,485.87 31.35,486.53 31.52,487.8 31.7,488.4 31.94,489.51 32.19,489.95 32.43,491.12 32.68,491.49 32.92,492.25 33.17,493.64 33.41,493.65 33.66,494.68 33.9,495.6 35,496.53 36.1,497.3 37.07,497.19 38.03,497.19 39,496.8 39.93,497.61 40.87,498 41.8,498.5 42.77,498.66 43.73,499.33 44.7,499.6 45.8,501.12 46.9,501.9" fill="#e1879a" stroke="#a53352" stroke-width="0.7" stroke-linejoin="round"/>
<rect x="4.3" y="436.8" width="65.7" height="65.1" fill="none" stroke="#2a2a2a" stroke-width="1.2"/>
<line x1="3.3" y1="437.8" x2="3.3" y2="501.9" stroke="#2a2a2a" stroke-width="0.8" stroke-dasharray="0.9 2.1" opacity="0.8"/>
<line x1="4.3" y1="502.9" x2="69" y2="502.9" stroke="#2a2a2a" stroke-width="0.8" stroke-dasharray="0.9 2.6" opacity="0.8"/>
<line x1="2.1" y1="485.62" x2="4.3" y2="485.62" stroke="#2a2a2a" stroke-width="0.9" />
<line x1="2.1" y1="469.35" x2="4.3" y2="469.35" stroke="#2a2a2a" stroke-width="0.9" />
<line x1="2.1" y1="453.07" x2="4.3" y2="453.07" stroke="#2a2a2a" stroke-width="0.9" />
<line x1="20.73" y1="501.9" x2="20.73" y2="503.9" stroke="#2a2a2a" stroke-width="0.9" />
<line x1="37.15" y1="501.9" x2="37.15" y2="503.9" stroke="#2a2a2a" stroke-width="0.9" />
<line x1="53.58" y1="501.9" x2="53.58" y2="503.9" stroke="#2a2a2a" stroke-width="0.9" />
<text x="31.5" y="447.3" font-size="7.8" text-anchor="start" font-weight="normal" fill="#222" stroke="#222" stroke-width="0.22">MFI 518</text>
<text x="114.25" y="433.2" font-size="9" text-anchor="middle" font-weight="normal" fill="#111" stroke="#111" stroke-width="0.22">Stimulated</text>
<polygon points="91,501.6 92,500.61 93,499.44 94,499 94.84,498.17 95.68,497.87 96.52,497.64 97.36,496.79 98.2,496.3 99.03,495.89 99.86,495.18 100.69,495.03 101.51,494.46 102.34,494.5 103.17,493.71 104,493.4 104.86,492.79 105.72,491.61 106.58,490.98 107.44,490.46 108.3,489.8 108.81,489.03 109.33,488.12 109.84,486.88 110.36,486.79 110.87,485.95 111.39,484.86 111.9,484 112.21,483.35 112.53,482.4 112.84,481.26 113.16,480.94 113.47,479.57 113.79,479.51 114.1,478.3 114.24,477.22 114.38,476.95 114.52,476.19 114.67,474.6 114.81,474.28 114.95,472.88 115.09,472.33 115.23,471.35 115.38,470.44 115.52,469.89 115.66,469.36 115.8,468.2 115.95,467.27 116.1,466 116.25,465.2 116.4,464.27 116.55,463.38 116.7,462.49 116.85,461.62 117,461 117.06,460.19 117.12,459.1 117.17,458.2 117.23,457.99 117.29,456.38 117.35,455.91 117.41,454.72 117.47,454 117.53,453.25 117.58,452.26 117.64,451.73 117.7,450.9 118.4,449.75 119.1,448.7 119.4,447.66 119.7,446.84 120,445.97 120.3,445.21 120.6,444.4 121.6,443.9 121.69,444.96 121.78,445.19 121.88,446.81 121.97,447.44 122.06,448.14 122.15,448.47 122.24,449.36 122.33,450.23 122.42,450.91 122.52,452.59 122.61,453.04 122.7,453.8 122.96,454.53 123.21,455.45 123.47,456.5 123.73,456.82 123.99,457.7 124.24,458.52 124.5,459.5 124.56,460.26 124.62,460.79 124.68,461.87 124.74,463.03 124.81,463.76 124.87,464.32 124.93,464.84 124.99,465.63 125.05,467.1 125.11,467.39 125.17,468.78 125.23,468.94 125.29,469.85 125.36,471.18 125.42,471.39 125.48,472.04 125.54,473.3 125.6,474 125.69,474.75 125.78,475.77 125.86,476.38 125.95,476.98 126.04,478.51 126.13,479.27 126.22,479.75 126.31,480.91 126.39,481.19 126.48,482.55 126.57,483.33 126.66,484.09 126.75,485.38 126.84,486.29 126.92,486.9 127.01,487.27 127.1,488.4 127.33,488.98 127.57,490.21 127.8,490.68 128.03,491.69 128.27,492.24 128.5,493.48 128.73,493.77 128.97,494.47 129.2,495.6 129.75,496.59 130.3,497.69 130.85,498.51 131.4,499.2 132.13,499.62 132.87,501.04 133.6,501.6" fill="#e1879a" stroke="#a53352" stroke-width="0.7" stroke-linejoin="round"/>
<rect x="82" y="437.3" width="64.2" height="64.3" fill="none" stroke="#2a2a2a" stroke-width="1.2"/>
<line x1="81" y1="438.3" x2="81" y2="501.6" stroke="#2a2a2a" stroke-width="0.8" stroke-dasharray="0.9 2.1" opacity="0.8"/>
<line x1="82" y1="502.6" x2="145.2" y2="502.6" stroke="#2a2a2a" stroke-width="0.8" stroke-dasharray="0.9 2.6" opacity="0.8"/>
<line x1="79.8" y1="485.53" x2="82" y2="485.53" stroke="#2a2a2a" stroke-width="0.9" />
<line x1="79.8" y1="469.45" x2="82" y2="469.45" stroke="#2a2a2a" stroke-width="0.9" />
<line x1="79.8" y1="453.38" x2="82" y2="453.38" stroke="#2a2a2a" stroke-width="0.9" />
<line x1="98.05" y1="501.6" x2="98.05" y2="503.6" stroke="#2a2a2a" stroke-width="0.9" />
<line x1="114.1" y1="501.6" x2="114.1" y2="503.6" stroke="#2a2a2a" stroke-width="0.9" />
<line x1="130.15" y1="501.6" x2="130.15" y2="503.6" stroke="#2a2a2a" stroke-width="0.9" />
<text x="93" y="446.5" font-size="7.8" text-anchor="start" font-weight="normal" fill="#222" stroke="#222" stroke-width="0.22">5303</text>
<text x="35" y="515.3" font-size="9" text-anchor="middle" font-weight="normal" fill="#111" stroke="#111" stroke-width="0.22">Tra 1 nM</text>
<polygon points="6.5,584.3 7.4,583.88 8.3,582.82 9.2,582.31 10.1,581.4 10.46,580.09 10.82,579.91 11.19,578.64 11.55,577.9 11.91,576.55 12.28,575.65 12.64,574.67 13,574.2 13.31,573.55 13.63,572.8 13.94,571.33 14.26,571.04 14.57,570.15 14.89,569.2 15.2,568.4 15.55,567.31 15.9,566.23 16.25,565.67 16.6,565.11 16.95,563.74 17.3,562.74 17.65,562.38 18,561.2 18.37,560.11 18.73,559.44 19.1,558.29 19.47,558.12 19.83,556.53 20.2,556.1 20.38,555.29 20.55,554.52 20.73,553.93 20.9,552.84 21.07,552.02 21.25,551.44 21.43,550 21.6,549.6 22.8,548.2 23.3,546.72 23.8,546 24.9,545.57 26,544.6 26.7,543.62 27.4,542.72 28.1,541.7 28.65,540.66 29.2,540.09 29.75,539.08 30.3,538.1 31.03,536.95 31.77,536.58 32.5,535.2 32.8,534.48 33.1,533.61 33.4,532.42 33.7,531.54 34,531.41 34.3,529.91 34.6,529.4 34.87,528.77 35.13,527.47 35.4,526.8 36.1,527.38 36.8,528.7 37.8,527.3 38.2,528.63 38.6,529.57 39,530.2 40.1,529.4 40.27,530.66 40.44,530.94 40.61,531.81 40.78,532.44 40.95,533.7 41.12,534.73 41.29,535.22 41.46,536.78 41.63,537.4 41.8,538.1 41.96,538.48 42.11,540.06 42.27,540.79 42.43,541.23 42.59,542.37 42.74,543.24 42.9,543.47 43.06,544.44 43.21,545.24 43.37,546.52 43.53,547.56 43.69,547.57 43.84,549.15 44,549.6 44.16,550.55 44.31,551.55 44.47,551.93 44.63,553.13 44.79,553.65 44.94,554.88 45.1,555.37 45.26,556.47 45.41,556.71 45.57,557.6 45.73,558.36 45.89,559.38 46.04,560.13 46.2,561.2 46.35,562.09 46.5,563.09 46.65,563.26 46.8,564.42 46.95,564.94 47.1,565.79 47.25,567.21 47.4,567.8 47.55,568.39 47.7,569.67 47.85,569.83 48,570.92 48.15,572.13 48.3,572.7 48.61,573.66 48.93,574.06 49.24,575.19 49.56,576.31 49.87,576.96 50.19,577.25 50.5,578.5 51.05,579.22 51.6,580.42 52.15,581.61 52.7,582.1 53.67,582.79 54.63,583.7 55.6,584.3" fill="#e1879a" stroke="#a53352" stroke-width="0.7" stroke-linejoin="round"/>
<rect x="4.6" y="518.5" width="66.2" height="65.8" fill="none" stroke="#2a2a2a" stroke-width="1.2"/>
<line x1="3.6" y1="519.5" x2="3.6" y2="584.3" stroke="#2a2a2a" stroke-width="0.8" stroke-dasharray="0.9 2.1" opacity="0.8"/>
<line x1="4.6" y1="585.3" x2="69.8" y2="585.3" stroke="#2a2a2a" stroke-width="0.8" stroke-dasharray="0.9 2.6" opacity="0.8"/>
<line x1="2.4" y1="567.85" x2="4.6" y2="567.85" stroke="#2a2a2a" stroke-width="0.9" />
<line x1="2.4" y1="551.4" x2="4.6" y2="551.4" stroke="#2a2a2a" stroke-width="0.9" />
<line x1="2.4" y1="534.95" x2="4.6" y2="534.95" stroke="#2a2a2a" stroke-width="0.9" />
<line x1="21.15" y1="584.3" x2="21.15" y2="586.3" stroke="#2a2a2a" stroke-width="0.9" />
<line x1="37.7" y1="584.3" x2="37.7" y2="586.3" stroke="#2a2a2a" stroke-width="0.9" />
<line x1="54.25" y1="584.3" x2="54.25" y2="586.3" stroke="#2a2a2a" stroke-width="0.9" />
<text x="65.4" y="528" font-size="7.8" text-anchor="end" font-weight="normal" fill="#222" stroke="#222" stroke-width="0.22">2290</text>
<text x="115.3" y="515.3" font-size="9" text-anchor="middle" font-weight="normal" fill="#111" stroke="#111" stroke-width="0.22">Tra 10 nM</text>
<polygon points="86.9,584.2 87.27,583.48 87.64,582.57 88.01,581.54 88.39,580.62 88.76,580.58 89.13,579.5 89.5,578.5 89.81,577.87 90.13,577.28 90.44,575.93 90.76,575.55 91.07,573.94 91.39,573.83 91.7,572.7 91.85,572.01 92,571.01 92.15,569.73 92.3,569.52 92.45,568.24 92.6,567.67 92.75,566.57 92.9,565.53 93.05,564.79 93.2,564.1 93.5,563.12 93.8,562.67 94.1,561.76 94.4,561.09 94.7,560.38 95,559.45 95.3,558.3 95.67,557.5 96.03,556.87 96.4,556.02 96.77,554.69 97.13,553.7 97.5,553.2 97.82,552.22 98.13,551.78 98.45,551.13 98.77,550.1 99.08,549.47 99.4,548.2 99.54,547.27 99.69,546.67 99.83,546.05 99.97,545.16 100.11,544.48 100.26,543.04 100.4,542.4 101.1,543.9 101.8,544.6 102.55,546.08 103.3,546.7 103.65,545.57 104,544.76 104.35,543.97 104.7,543.1 104.86,542.51 105.01,541.87 105.17,541.15 105.32,539.83 105.48,539.5 105.63,538.65 105.79,537.39 105.94,536.79 106.1,535.9 106.4,536.51 106.7,537.57 107,538.6 107.3,539.4 107.6,540.3 107.77,539.2 107.95,538.42 108.12,537.83 108.3,536.63 108.47,536.66 108.65,535.09 108.83,534.53 109,533.8 109.5,534.54 110,535.51 110.5,536.6 111.5,538.1 111.62,537.43 111.73,536.17 111.85,535.5 111.97,534.86 112.08,533.7 112.2,532.77 112.32,532.16 112.43,531.23 112.55,531.17 112.67,529.75 112.78,529.26 112.9,528.3 113.05,528.9 113.2,530.28 113.35,530.47 113.5,531.85 113.65,532.92 113.8,533.07 113.95,534.45 114.1,535.2 114.38,535.67 114.66,536.84 114.94,537.86 115.22,539.05 115.5,539.5 117,541 117.14,542.13 117.28,542.38 117.42,543.23 117.56,544.73 117.7,545.1 117.84,546.47 117.98,546.89 118.12,548.31 118.26,548.59 118.4,549.6 118.56,550.51 118.71,551.21 118.87,552.09 119.03,552.71 119.19,553.79 119.34,554.95 119.5,555.2 119.66,556.45 119.81,556.74 119.97,558 120.13,558.84 120.29,559.45 120.44,560.54 120.6,561.2 120.81,562.19 121.02,562.58 121.23,564.2 121.44,564.54 121.65,565.46 121.86,566.56 122.07,566.86 122.28,568.39 122.49,569.04 122.7,569.8 123.02,570.96 123.34,571.67 123.67,571.87 123.99,573.06 124.31,573.95 124.63,574.51 124.96,575.49 125.28,575.81 125.6,577 126.18,577.78 126.76,579.16 127.34,579.93 127.92,580.51 128.5,581.4 129.47,582.06 130.43,583.03 131.4,583.5 132.26,583.73 133.12,583.4 133.98,584.2 134.84,583.93 135.7,584.2" fill="#e1879a" stroke="#a53352" stroke-width="0.7" stroke-linejoin="round"/>
<rect x="81.9" y="519.3" width="65.5" height="64.9" fill="none" stroke="#2a2a2a" stroke-width="1.2"/>
<line x1="80.9" y1="520.3" x2="80.9" y2="584.2" stroke="#2a2a2a" stroke-width="0.8" stroke-dasharray="0.9 2.1" opacity="0.8"/>
<line x1="81.9" y1="585.2" x2="146.4" y2="585.2" stroke="#2a2a2a" stroke-width="0.8" stroke-dasharray="0.9 2.6" opacity="0.8"/>
<line x1="79.7" y1="567.98" x2="81.9" y2="567.98" stroke="#2a2a2a" stroke-width="0.9" />
<line x1="79.7" y1="551.75" x2="81.9" y2="551.75" stroke="#2a2a2a" stroke-width="0.9" />
<line x1="79.7" y1="535.52" x2="81.9" y2="535.52" stroke="#2a2a2a" stroke-width="0.9" />
<line x1="98.28" y1="584.2" x2="98.28" y2="586.2" stroke="#2a2a2a" stroke-width="0.9" />
<line x1="114.65" y1="584.2" x2="114.65" y2="586.2" stroke="#2a2a2a" stroke-width="0.9" />
<line x1="131.03" y1="584.2" x2="131.03" y2="586.2" stroke="#2a2a2a" stroke-width="0.9" />
<text x="142.3" y="529" font-size="7.8" text-anchor="end" font-weight="normal" fill="#222" stroke="#222" stroke-width="0.22">2034</text>
<text x="193.3" y="515.3" font-size="9" text-anchor="middle" font-weight="normal" fill="#111" stroke="#111" stroke-width="0.22">Tra 100 nM</text>
<polygon points="163.9,584.3 164.34,583.68 164.78,582.39 165.22,581.68 165.66,581.07 166.1,579.9 166.41,579.18 166.73,578.66 167.04,577.47 167.36,576.47 167.67,575.81 167.99,575.43 168.3,574.2 168.5,573.79 168.7,572.75 168.9,572.13 169.1,571.33 169.3,569.71 169.5,568.8 169.7,568.4 170.2,567.2 170.7,566.06 171.2,565.5 171.43,564.26 171.67,564.12 171.9,562.84 172.13,562.29 172.37,561.46 172.6,560.51 172.83,560.05 173.07,559.37 173.3,558.3 173.74,557.61 174.18,556.79 174.62,556.16 175.06,555.05 175.5,554 175.71,553.51 175.92,552.18 176.13,551.23 176.34,550.84 176.55,549.63 176.76,549.11 176.97,547.92 177.18,547.04 177.39,546.07 177.6,545.3 177.81,544.06 178.03,544.01 178.24,542.67 178.46,541.84 178.67,541.15 178.89,540.77 179.1,539.5 179.28,538.68 179.47,538 179.65,537.45 179.83,536.44 180.02,535.55 180.2,534.5 180.37,535.27 180.53,536.47 180.7,537.2 180.87,538.22 181.03,538.9 181.2,539.95 181.37,540.96 181.53,541.91 181.7,542.4 182.55,540.96 183.4,540.3 184.9,541 185.14,540.61 185.39,539.66 185.63,538.78 185.87,537.46 186.11,537.15 186.36,536.32 186.6,535.2 187.7,536.6 187.86,536 188.02,534.57 188.18,533.7 188.34,533.2 188.5,532 188.78,533.25 189.06,533.82 189.34,535.17 189.62,536.1 189.9,536.6 190.27,536.12 190.63,535.28 191,533.65 191.37,533.17 191.73,532.48 192.1,531.6 192.53,532.83 192.95,533.46 193.38,534.51 193.8,535.2 194,535.88 194.2,537.13 194.4,537.9 194.6,538.87 194.8,539.44 195,540.3 195.43,541.05 195.85,541.84 196.27,543.35 196.7,543.9 196.84,544.95 196.98,545.75 197.12,546.1 197.26,547.73 197.4,548.65 197.54,548.67 197.68,550.24 197.82,550.97 197.96,551.95 198.1,552.5 198.26,552.94 198.42,553.83 198.57,555.04 198.73,555.56 198.89,556.85 199.05,557.63 199.21,558.78 199.37,558.85 199.53,560 199.68,561.21 199.84,562.04 200,562.6 200.19,563.33 200.38,564.61 200.56,565.03 200.75,565.76 200.94,567.13 201.12,568.4 201.31,569.11 201.5,569.8 201.71,571.08 201.92,571.49 202.13,572.86 202.34,573.31 202.55,573.73 202.76,575.01 202.97,576.13 203.18,577.07 203.39,577.22 203.6,578.5 204.15,579.75 204.7,580.42 205.25,581.34 205.8,582.1 206.77,582.82 207.73,583.73 208.7,584.3" fill="#e1879a" stroke="#a53352" stroke-width="0.7" stroke-linejoin="round"/>
<rect x="160.4" y="517.8" width="65.8" height="66.5" fill="none" stroke="#2a2a2a" stroke-width="1.2"/>
<line x1="159.4" y1="518.8" x2="159.4" y2="584.3" stroke="#2a2a2a" stroke-width="0.8" stroke-dasharray="0.9 2.1" opacity="0.8"/>
<line x1="160.4" y1="585.3" x2="225.2" y2="585.3" stroke="#2a2a2a" stroke-width="0.8" stroke-dasharray="0.9 2.6" opacity="0.8"/>
<line x1="158.2" y1="567.67" x2="160.4" y2="567.67" stroke="#2a2a2a" stroke-width="0.9" />
<line x1="158.2" y1="551.05" x2="160.4" y2="551.05" stroke="#2a2a2a" stroke-width="0.9" />
<line x1="158.2" y1="534.42" x2="160.4" y2="534.42" stroke="#2a2a2a" stroke-width="0.9" />
<line x1="176.85" y1="584.3" x2="176.85" y2="586.3" stroke="#2a2a2a" stroke-width="0.9" />
<line x1="193.3" y1="584.3" x2="193.3" y2="586.3" stroke="#2a2a2a" stroke-width="0.9" />
<line x1="209.75" y1="584.3" x2="209.75" y2="586.3" stroke="#2a2a2a" stroke-width="0.9" />
<text x="221" y="527.7" font-size="7.8" text-anchor="end" font-weight="normal" fill="#222" stroke="#222" stroke-width="0.22">1758</text>
<text x="37.9" y="597.6" font-size="9" text-anchor="middle" font-weight="normal" fill="#111" stroke="#111" stroke-width="0.22">Cobi 1 nM</text>
<polygon points="9.4,666.5 9.7,666.09 10,664.48 10.3,663.93 10.6,662.69 10.9,662.09 11.2,661.14 11.5,660.5 11.94,659.34 12.38,659.14 12.82,658.01 13.26,657.14 13.7,656.2 14.01,655.12 14.33,654.99 14.64,653.65 14.96,653.22 15.27,652.45 15.59,651.43 15.9,650.4 16.32,649.92 16.74,648.58 17.16,647.39 17.58,646.55 18,646.1 18.44,645.52 18.88,644.73 19.32,643.87 19.76,642.61 20.2,641.7 20.55,640.89 20.9,640.18 21.25,638.7 21.6,638.1 22.1,637.14 22.6,635.84 23.1,635.2 24.5,634.5 25.25,633.63 26,632.4 27.4,631.6 28.15,630.75 28.9,629.5 30.3,628.7 31.15,628.24 32,628 32.38,627.11 32.75,626.33 33.12,625.5 33.5,624.4 33.68,623.87 33.87,623.16 34.05,622.18 34.23,621.16 34.42,620.28 34.6,619.4 35.35,618.02 36.1,617.2 36.38,616.49 36.65,615.19 36.93,614.48 37.2,613.6 37.4,612.38 37.6,611.85 37.8,611.03 38,609.87 38.2,609.3 38.31,610.02 38.42,610.72 38.53,611.66 38.64,612.52 38.76,613.53 38.87,614.11 38.98,614.91 39.09,615.66 39.2,616.5 39.95,617.33 40.7,618.6 41.25,619.66 41.8,620.8 41.97,622.05 42.13,622.38 42.3,623.27 42.47,624.37 42.63,625.59 42.8,626.32 42.97,627.19 43.13,628.09 43.3,628.7 43.5,629.9 43.7,630 43.9,631.45 44.1,631.59 44.3,632.92 44.5,633.71 44.7,634.5 44.85,635.36 45,636.2 45.15,636.73 45.3,637.88 45.45,638.47 45.6,639.68 45.75,640.7 45.9,641.21 46.05,642.09 46.2,643.2 46.34,643.94 46.48,644.74 46.62,646.11 46.76,646.31 46.9,647.74 47.04,648.29 47.18,649.52 47.32,650.15 47.46,651.11 47.6,651.8 47.77,653.02 47.93,653.34 48.1,653.8 48.27,654.97 48.43,656.16 48.6,657.03 48.77,657.54 48.93,658.06 49.1,659 49.8,659.6 50.5,660.78 51.2,661.9 52.3,662.88 53.4,664.1 54.5,664.97 55.6,666.5" fill="#e1879a" stroke="#a53352" stroke-width="0.7" stroke-linejoin="round"/>
<rect x="4.3" y="600.5" width="67.2" height="66" fill="none" stroke="#2a2a2a" stroke-width="1.2"/>
<line x1="3.3" y1="601.5" x2="3.3" y2="666.5" stroke="#2a2a2a" stroke-width="0.8" stroke-dasharray="0.9 2.1" opacity="0.8"/>
<line x1="4.3" y1="667.5" x2="70.5" y2="667.5" stroke="#2a2a2a" stroke-width="0.8" stroke-dasharray="0.9 2.6" opacity="0.8"/>
<line x1="2.1" y1="650" x2="4.3" y2="650" stroke="#2a2a2a" stroke-width="0.9" />
<line x1="2.1" y1="633.5" x2="4.3" y2="633.5" stroke="#2a2a2a" stroke-width="0.9" />
<line x1="2.1" y1="617" x2="4.3" y2="617" stroke="#2a2a2a" stroke-width="0.9" />
<line x1="21.1" y1="666.5" x2="21.1" y2="668.5" stroke="#2a2a2a" stroke-width="0.9" />
<line x1="37.9" y1="666.5" x2="37.9" y2="668.5" stroke="#2a2a2a" stroke-width="0.9" />
<line x1="54.7" y1="666.5" x2="54.7" y2="668.5" stroke="#2a2a2a" stroke-width="0.9" />
<text x="66.2" y="610.8" font-size="7.8" text-anchor="end" font-weight="normal" fill="#222" stroke="#222" stroke-width="0.22">2477</text>
<text x="115.7" y="597.6" font-size="9" text-anchor="middle" font-weight="normal" fill="#111" stroke="#111" stroke-width="0.22">Cobi 10 nM</text>
<polygon points="86.7,666.5 86.93,665.59 87.17,664.54 87.4,663.89 87.63,663.36 87.87,662.06 88.1,661.53 88.33,660.8 88.57,660.12 88.8,659 89.01,657.87 89.22,657.22 89.43,656.33 89.64,656.01 89.86,655.08 90.07,654.07 90.28,653.04 90.49,652.82 90.7,651.8 90.87,650.59 91.04,650.4 91.21,649.01 91.38,648.61 91.55,647.69 91.72,646.44 91.89,645.76 92.06,644.82 92.23,644.01 92.4,643.2 92.57,642.14 92.73,641.58 92.9,640.39 93.07,639.71 93.23,639.15 93.4,638.26 93.57,637.39 93.73,636.84 93.9,636 94.1,635.26 94.3,633.98 94.5,633.14 94.7,632.32 94.9,631.57 95.1,631.36 95.3,630.2 95.6,628.96 95.9,628.26 96.2,627.29 96.5,627 96.8,625.9 97.03,625.06 97.27,623.99 97.5,623.53 97.73,622.22 97.97,621.29 98.2,620.8 98.44,619.74 98.68,619.03 98.92,618.49 99.16,617.35 99.4,616.5 100.25,616.4 101.1,617.2 102.5,616.5 104,617.9 105.4,616.5 106.9,617.9 107.37,619 107.83,619.85 108.3,620.8 109.7,622.3 110.2,623.51 110.7,623.78 111.2,625.1 111.67,625.64 112.13,626.98 112.6,628 112.97,628.62 113.35,629.92 113.72,630.48 114.1,631.6 114.95,631.59 115.8,631.6 116.1,632.64 116.4,633.61 116.7,634.33 117,635.2 117.26,635.68 117.53,636.66 117.79,637.95 118.05,638.77 118.31,639.38 118.57,640.05 118.84,640.49 119.1,641.7 119.41,642.24 119.73,643.29 120.04,644.33 120.36,645.44 120.67,645.65 120.99,646.66 121.3,647.5 121.54,648.25 121.79,648.7 122.03,649.65 122.28,651.08 122.52,651.82 122.77,652.41 123.01,652.82 123.26,654.24 123.5,654.7 123.92,655.82 124.34,656.06 124.76,657.73 125.18,657.72 125.6,659 126.33,659.56 127.07,660.77 127.8,661.9 128.85,663.24 129.9,664.1 131,665.24 132.1,666.5" fill="#e1879a" stroke="#a53352" stroke-width="0.7" stroke-linejoin="round"/>
<rect x="81.9" y="600.1" width="66.7" height="66.4" fill="none" stroke="#2a2a2a" stroke-width="1.2"/>
<line x1="80.9" y1="601.1" x2="80.9" y2="666.5" stroke="#2a2a2a" stroke-width="0.8" stroke-dasharray="0.9 2.1" opacity="0.8"/>
<line x1="81.9" y1="667.5" x2="147.6" y2="667.5" stroke="#2a2a2a" stroke-width="0.8" stroke-dasharray="0.9 2.6" opacity="0.8"/>
<line x1="79.7" y1="649.9" x2="81.9" y2="649.9" stroke="#2a2a2a" stroke-width="0.9" />
<line x1="79.7" y1="633.3" x2="81.9" y2="633.3" stroke="#2a2a2a" stroke-width="0.9" />
<line x1="79.7" y1="616.7" x2="81.9" y2="616.7" stroke="#2a2a2a" stroke-width="0.9" />
<line x1="98.58" y1="666.5" x2="98.58" y2="668.5" stroke="#2a2a2a" stroke-width="0.9" />
<line x1="115.25" y1="666.5" x2="115.25" y2="668.5" stroke="#2a2a2a" stroke-width="0.9" />
<line x1="131.93" y1="666.5" x2="131.93" y2="668.5" stroke="#2a2a2a" stroke-width="0.9" />
<text x="141.2" y="610.4" font-size="7.8" text-anchor="end" font-weight="normal" fill="#222" stroke="#222" stroke-width="0.22">1560</text>
<text x="193.55" y="597.6" font-size="9" text-anchor="middle" font-weight="normal" fill="#111" stroke="#111" stroke-width="0.22">Cobi 100 nM</text>
<polygon points="164.7,667 165.05,665.95 165.4,665.04 165.75,664.08 166.1,663.41 166.45,662.9 166.8,661.9 166.99,661.19 167.18,660.31 167.36,659.54 167.55,658.06 167.74,657.58 167.93,656.48 168.11,655.18 168.3,654.7 168.46,653.61 168.61,653.04 168.77,652.54 168.92,651.61 169.08,650.45 169.23,650.18 169.39,648.98 169.54,647.96 169.7,647.5 169.85,646.65 170,645.95 170.15,645.05 170.3,643.62 170.45,643.31 170.6,642.62 170.75,641.82 170.9,640.7 171.05,639.78 171.2,638.8 171.34,638.06 171.48,636.64 171.62,636.16 171.76,635.29 171.9,634.27 172.04,633.46 172.18,632.56 172.32,631.94 172.46,631.04 172.6,630.2 172.76,628.97 172.91,628.8 173.07,627.77 173.22,626.97 173.38,625.97 173.53,625.24 173.69,624.94 173.84,623.89 174,623 174.25,622.4 174.5,621.42 174.75,620.28 175,619.22 175.25,618.54 175.5,617.9 176.9,616.5 177.23,617.75 177.57,618.05 177.9,619.4 178.05,619.04 178.2,618.07 178.35,616.62 178.5,616.49 178.65,615.24 178.8,614.53 178.95,613.83 179.1,612.9 179.45,611.52 179.8,610.7 180.05,611.28 180.3,612.62 180.55,613.28 180.8,614.3 182,615 182.28,616.11 182.55,616.72 182.82,617.52 183.1,618.6 184.6,617.2 184.88,617.98 185.17,618.73 185.45,620.09 185.73,620.59 186.02,621.41 186.3,622.3 186.87,623.63 187.43,624.09 188,625.1 188.32,626.23 188.63,627.15 188.95,628.02 189.27,628.34 189.58,629.67 189.9,630.2 190.65,631.31 191.4,632.4 191.6,631.44 191.8,630.3 192,629.5 192.2,628.97 192.4,628.27 192.6,627.29 192.8,626.6 192.97,627.71 193.13,628.26 193.3,629.18 193.47,629.54 193.63,631.01 193.8,631.6 193.89,632.84 193.98,633.66 194.07,634.35 194.16,635.03 194.25,635.58 194.34,636.68 194.43,638.05 194.52,638.65 194.61,639.17 194.7,640.3 194.87,641.5 195.03,641.56 195.2,642.86 195.37,643.91 195.53,644.49 195.7,645.3 196.75,646.26 197.8,647.5 198.01,648.29 198.23,649.34 198.44,650.03 198.66,650.75 198.87,652 199.09,652.63 199.3,653.3 199.61,654.48 199.93,654.63 200.24,655.36 200.56,656.39 200.87,657.57 201.19,658.56 201.5,659 202.03,659.79 202.55,661.02 203.07,661.49 203.6,662.7 204.18,663.87 204.76,664.27 205.34,665.48 205.92,666.07 206.5,667" fill="#e1879a" stroke="#a53352" stroke-width="0.7" stroke-linejoin="round"/>
<rect x="160.4" y="600.4" width="66.3" height="66.6" fill="none" stroke="#2a2a2a" stroke-width="1.2"/>
<line x1="159.4" y1="601.4" x2="159.4" y2="667" stroke="#2a2a2a" stroke-width="0.8" stroke-dasharray="0.9 2.1" opacity="0.8"/>
<line x1="160.4" y1="668" x2="225.7" y2="668" stroke="#2a2a2a" stroke-width="0.8" stroke-dasharray="0.9 2.6" opacity="0.8"/>
<line x1="158.2" y1="650.35" x2="160.4" y2="650.35" stroke="#2a2a2a" stroke-width="0.9" />
<line x1="158.2" y1="633.7" x2="160.4" y2="633.7" stroke="#2a2a2a" stroke-width="0.9" />
<line x1="158.2" y1="617.05" x2="160.4" y2="617.05" stroke="#2a2a2a" stroke-width="0.9" />
<line x1="176.97" y1="667" x2="176.97" y2="669" stroke="#2a2a2a" stroke-width="0.9" />
<line x1="193.55" y1="667" x2="193.55" y2="669" stroke="#2a2a2a" stroke-width="0.9" />
<line x1="210.12" y1="667" x2="210.12" y2="669" stroke="#2a2a2a" stroke-width="0.9" />
<text x="220.1" y="610.4" font-size="7.8" text-anchor="end" font-weight="normal" fill="#222" stroke="#222" stroke-width="0.22">1160</text>
<line x1="2.3" y1="677.3" x2="191.3" y2="677.3" stroke="#1a1a1a" stroke-width="1.5" />
<polygon points="189.8,674.5 195.3,677.3 189.8,680.1" fill="#111"/>
<text x="199.8" y="680.9" font-size="9.5" text-anchor="start" font-weight="normal" fill="#111" stroke="#111" stroke-width="0.22">CD69</text>
<text x="264.2" y="419.4" font-size="10.5" text-anchor="start" font-weight="bold" fill="#111" stroke="#000" stroke-width="0.45">D</text>
<line x1="300.1" y1="441.5" x2="300.1" y2="650.2" stroke="#222" stroke-width="1.2" />
<line x1="300.1" y1="650.2" x2="518.7" y2="650.2" stroke="#222" stroke-width="1.2" />
<line x1="296.7" y1="650.5" x2="300.1" y2="650.5" stroke="#222" stroke-width="1" />
<text x="294.4" y="653.3" font-size="8" text-anchor="end" font-weight="normal" fill="#222" stroke="#222" stroke-width="0.22">0</text>
<line x1="296.7" y1="616.43" x2="300.1" y2="616.43" stroke="#222" stroke-width="1" />
<text x="294.4" y="619.23" font-size="8" text-anchor="end" font-weight="normal" fill="#222" stroke="#222" stroke-width="0.22">20</text>
<line x1="296.7" y1="582.36" x2="300.1" y2="582.36" stroke="#222" stroke-width="1" />
<text x="294.4" y="585.16" font-size="8" text-anchor="end" font-weight="normal" fill="#222" stroke="#222" stroke-width="0.22">40</text>
<line x1="296.7" y1="548.29" x2="300.1" y2="548.29" stroke="#222" stroke-width="1" />
<text x="294.4" y="551.09" font-size="8" text-anchor="end" font-weight="normal" fill="#222" stroke="#222" stroke-width="0.22">60</text>
<line x1="296.7" y1="514.22" x2="300.1" y2="514.22" stroke="#222" stroke-width="1" />
<text x="294.4" y="517.02" font-size="8" text-anchor="end" font-weight="normal" fill="#222" stroke="#222" stroke-width="0.22">80</text>
<line x1="296.7" y1="480.15" x2="300.1" y2="480.15" stroke="#222" stroke-width="1" />
<text x="294.4" y="482.95" font-size="8" text-anchor="end" font-weight="normal" fill="#222" stroke="#222" stroke-width="0.22">100</text>
<line x1="296.7" y1="446.08" x2="300.1" y2="446.08" stroke="#222" stroke-width="1" />
<text x="294.4" y="448.88" font-size="8" text-anchor="end" font-weight="normal" fill="#222" stroke="#222" stroke-width="0.22">120</text>
<rect x="304.2" y="632.4" width="22.6" height="17.8" fill="#c4142f"/>
<line x1="315.5" y1="650.2" x2="315.5" y2="653.2" stroke="#222" stroke-width="0.9" />
<text transform="translate(315.7,658.6) rotate(-45)" font-size="7.6" text-anchor="end" fill="#222">Unstim</text>
<rect x="331" y="480.6" width="23" height="169.6" fill="#c4142f"/>
<line x1="342.5" y1="650.2" x2="342.5" y2="653.2" stroke="#222" stroke-width="0.9" />
<text transform="translate(342.7,658.6) rotate(-45)" font-size="7.6" text-anchor="end" fill="#222">Stim</text>
<line x1="369.55" y1="565.4" x2="369.55" y2="567.7" stroke="#333" stroke-width="0.9" />
<line x1="364.25" y1="565.4" x2="374.85" y2="565.4" stroke="#333" stroke-width="0.9" />
<rect x="358.2" y="567.7" width="22.7" height="82.5" fill="#c4142f"/>
<line x1="369.55" y1="650.2" x2="369.55" y2="653.2" stroke="#222" stroke-width="0.9" />
<text transform="translate(369.75,658.6) rotate(-45)" font-size="7.6" text-anchor="end" fill="#222">Cobi1</text>
<line x1="396.4" y1="575.9" x2="396.4" y2="588.8" stroke="#333" stroke-width="0.9" />
<line x1="391.1" y1="575.9" x2="401.7" y2="575.9" stroke="#333" stroke-width="0.9" />
<rect x="385" y="588.8" width="22.8" height="61.4" fill="#c4142f"/>
<line x1="396.4" y1="650.2" x2="396.4" y2="653.2" stroke="#222" stroke-width="0.9" />
<text transform="translate(396.6,658.6) rotate(-45)" font-size="7.6" text-anchor="end" fill="#222">Cobi10</text>
<line x1="423.1" y1="599.2" x2="423.1" y2="603.6" stroke="#333" stroke-width="0.9" />
<line x1="417.8" y1="599.2" x2="428.4" y2="599.2" stroke="#333" stroke-width="0.9" />
<rect x="411.8" y="603.6" width="22.6" height="46.6" fill="#c4142f"/>
<line x1="423.1" y1="650.2" x2="423.1" y2="653.2" stroke="#222" stroke-width="0.9" />
<text transform="translate(423.3,658.6) rotate(-45)" font-size="7.6" text-anchor="end" fill="#222">Cobi100</text>
<line x1="450" y1="567.7" x2="450" y2="572.3" stroke="#333" stroke-width="0.9" />
<line x1="444.7" y1="567.7" x2="455.3" y2="567.7" stroke="#333" stroke-width="0.9" />
<rect x="438.7" y="572.3" width="22.6" height="77.9" fill="#c4142f"/>
<line x1="450" y1="650.2" x2="450" y2="653.2" stroke="#222" stroke-width="0.9" />
<text transform="translate(450.2,658.6) rotate(-45)" font-size="7.6" text-anchor="end" fill="#222">Tra1</text>
<line x1="476.9" y1="570.2" x2="476.9" y2="577.7" stroke="#333" stroke-width="0.9" />
<line x1="471.6" y1="570.2" x2="482.2" y2="570.2" stroke="#333" stroke-width="0.9" />
<rect x="465.6" y="577.7" width="22.6" height="72.5" fill="#c4142f"/>
<line x1="476.9" y1="650.2" x2="476.9" y2="653.2" stroke="#222" stroke-width="0.9" />
<text transform="translate(477.1,658.6) rotate(-45)" font-size="7.6" text-anchor="end" fill="#222">Tra10</text>
<line x1="503.85" y1="579.3" x2="503.85" y2="586.6" stroke="#333" stroke-width="0.9" />
<line x1="498.55" y1="579.3" x2="509.15" y2="579.3" stroke="#333" stroke-width="0.9" />
<rect x="492.5" y="586.6" width="22.7" height="63.6" fill="#c4142f"/>
<line x1="503.85" y1="650.2" x2="503.85" y2="653.2" stroke="#222" stroke-width="0.9" />
<text transform="translate(504.05,658.6) rotate(-45)" font-size="7.6" text-anchor="end" fill="#222">Tra100</text>
<line x1="422.5" y1="550.8" x2="503.3" y2="550.8" stroke="#333" stroke-width="1" />
<text x="463.5" y="549.5" font-size="7" text-anchor="middle" font-weight="normal" fill="#222" stroke="#222" stroke-width="0.22">*</text>
<text transform="translate(278.4,548.9) rotate(-90)" font-size="8.6" text-anchor="middle" font-weight="bold" fill="#222" textLength="66.5" lengthAdjust="spacingAndGlyphs">MFI of CD69 % control</text>
</svg>
</body></html>
